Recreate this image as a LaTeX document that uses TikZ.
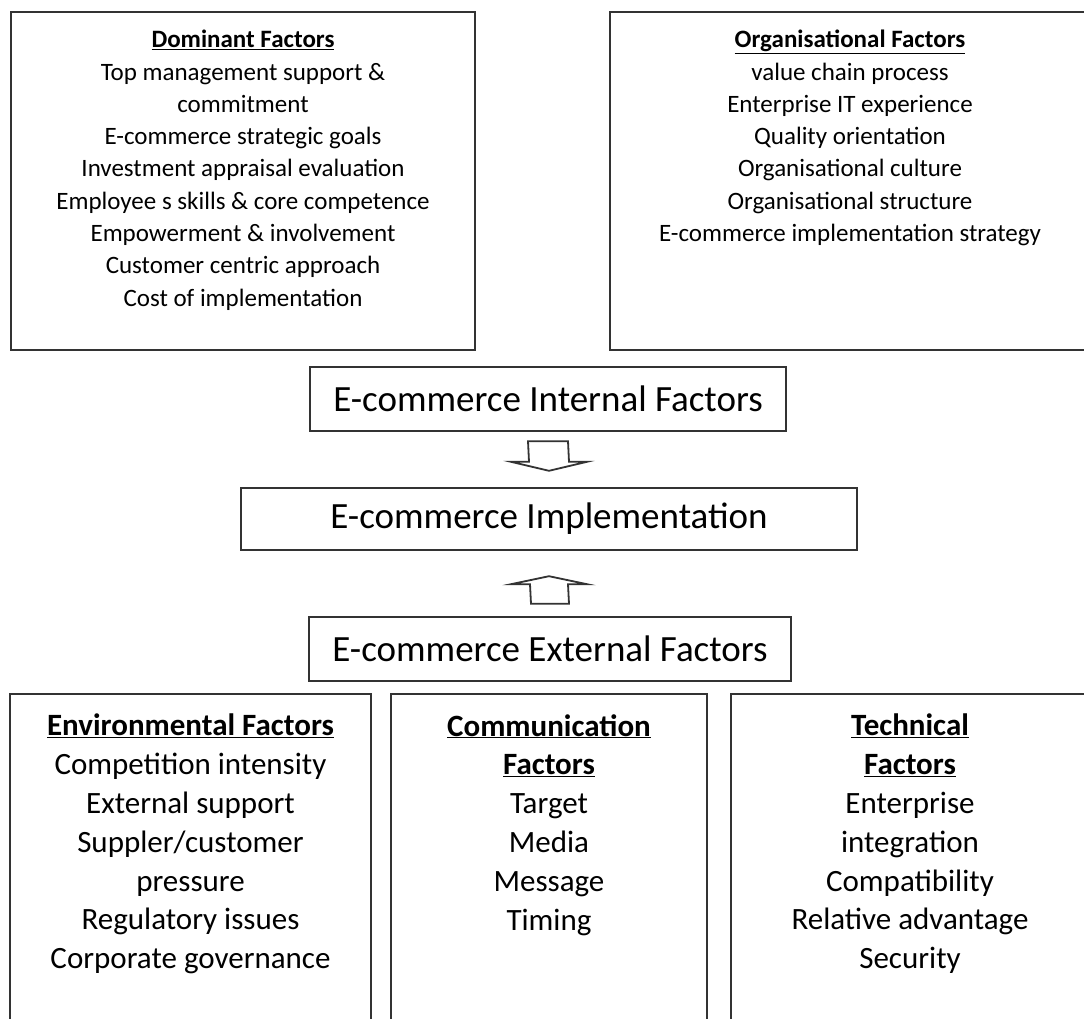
\documentclass[tikz,border=0pt]{standalone}
\usepackage{fontspec}
\setmainfont{Carlito}
\usetikzlibrary{positioning,calc}

\begin{document}
\begin{tikzpicture}[x=1pt,y=-1pt,
	panel/.style={draw=black!80,line width=2.4pt,inner sep=0pt},
	toptext/.style={anchor=north,align=center,inner sep=0pt,font=\fontsize{25}{32.3}\selectfont},
	bottext/.style={anchor=north,align=center,inner sep=0pt,font=\fontsize{31}{38.8}\selectfont},
	midtext/.style={font=\fontsize{37}{42}\selectfont},
	hollow/.style={draw=black!80,line width=1.8pt,fill=white,line join=miter}]
	\useasboundingbox (0,0) rectangle (1084,1019);
	
	% internal factors
	\node[panel,minimum width=464,minimum height=338] (dom) at (243,181) {};
	\node[panel,minimum width=480,minimum height=338] (org) at (850,181) {};
	\node[toptext] (domtxt) at (243,30) {\underline{\textbf{Dominant Factors}}\\
		Top management support \&\\
		commitment\\
		E-commerce strategic goals\\
		Investment appraisal evaluation\\
		Employee s skills \& core competence\\
		Empowerment \& involvement\\
		Customer centric approach\\
		Cost of implementation};
	\node[toptext] (orgtxt) at (850,30) {\underline{\textbf{Organisational Factors}}\\
		value chain process\\
		Enterprise IT experience\\
		Quality orientation\\
		Organisational culture\\
		Organisational structure\\
		E-commerce implementation strategy};
	
	% middle column
	\node[panel,midtext,minimum width=476,minimum height=64] (int) at (548,399) {E-commerce Internal Factors};
	\node[panel,midtext,minimum width=616,minimum height=62] (imp) at (549,519) {E-commerce Implementation};
	\node[panel,midtext,minimum width=482,minimum height=64] (ext) at (550,649) {E-commerce External Factors};
	
	\coordinate (dtop) at ($(int.south)+(0,9)$);
	\coordinate (dtip) at ($(imp.north)+(0,-16)$);
	\draw[hollow] ($(dtop)+(-20,0)$) -- ($(dtop)+(20,0)$) -- ($(dtip)+(20,-9)$)
		-- ($(dtip)+(38,-9)$) -- (dtip) -- ($(dtip)+(-38,-9)$) -- ($(dtip)+(-20,-9)$) -- cycle;
	
	\coordinate (ubot) at ($(ext.north)+(0,-12)$);
	\coordinate (utip) at ($(imp.south)+(0,25)$);
	\draw[hollow] ($(ubot)+(-19,0)$) -- ($(ubot)+(19,0)$) -- ($(utip)+(19,8)$)
		-- ($(utip)+(38,8)$) -- (utip) -- ($(utip)+(-38,8)$) -- ($(utip)+(-19,8)$) -- cycle;
	
	% external factors
	\node[panel,minimum width=361,minimum height=340] (env) at (190.5,864) {};
	\node[panel,minimum width=316,minimum height=340] (com) at (549,864) {};
	\node[panel,minimum width=358,minimum height=340] (tec) at (910,864) {};
	\node[bottext] (envtxt) at (190.5,714) {\underline{\textbf{Environmental Factors}}\\
		Competition intensity\\
		External support\\
		Suppler/customer\\
		pressure\\
		Regulatory issues\\
		Corporate governance};
	\node[bottext] (comtxt) at (549,714) {\underline{\textbf{Communication}}\\
		\underline{\textbf{Factors}}\\
		Target\\
		Media\\
		Message\\
		Timing};
	\node[bottext] (tectxt) at (910,714) {\underline{\textbf{Technical}}\\
		\underline{\textbf{Factors}}\\
		Enterprise\\
		integration\\
		Compatibility\\
		Relative advantage\\
		Security};
\end{tikzpicture}
\end{document}
